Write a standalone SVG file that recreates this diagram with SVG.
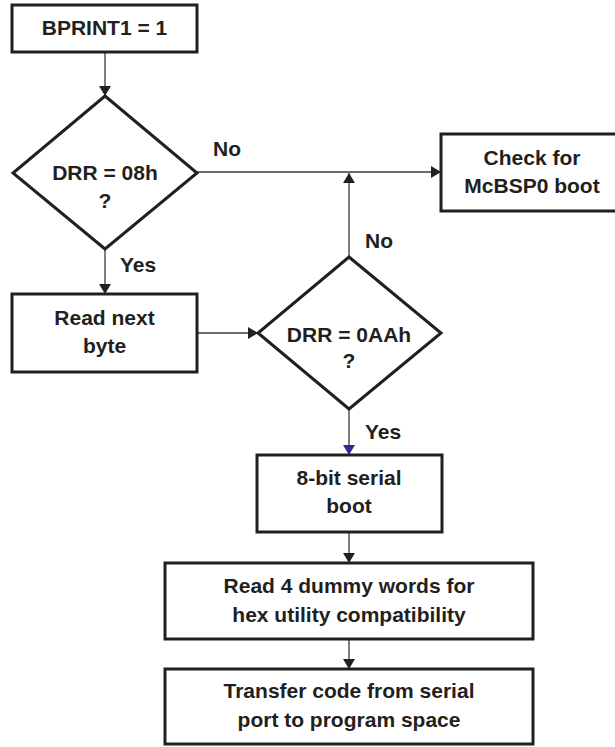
<svg xmlns="http://www.w3.org/2000/svg" width="615" height="747" viewBox="0 0 615 747">
<defs>
<style>
.box{fill:#fff;stroke:#231f20;stroke-width:3;stroke-linejoin:miter}
.t{font-family:"Liberation Sans",Arial,sans-serif;font-weight:bold;font-size:21px;fill:#231f20;text-anchor:middle}
.l{font-family:"Liberation Sans",Arial,sans-serif;font-weight:bold;font-size:21px;fill:#231f20}
.c{fill:none;stroke:#3a3a3a;stroke-width:1.3}
</style>
<marker id="ah" viewBox="0 0 10 12" refX="10" refY="6" markerWidth="10" markerHeight="12" markerUnits="userSpaceOnUse" orient="auto"><path d="M0,0 L10,6 L0,12 Z" fill="#231f20"/></marker>
<marker id="ahb" viewBox="0 0 10 12" refX="10" refY="6" markerWidth="10" markerHeight="12" markerUnits="userSpaceOnUse" orient="auto"><path d="M0,0 L10,6 L0,12 Z" fill="#2b2b9a"/></marker>
</defs>
<rect width="615" height="747" fill="#fff"/>
<g id="connectors">
<line class="c" x1="105" y1="52" x2="105" y2="96" marker-end="url(#ah)"/>
<line class="c" x1="197" y1="172" x2="441" y2="172" marker-end="url(#ah)"/>
<line class="c" x1="349" y1="257" x2="349" y2="173" marker-end="url(#ah)"/>
<line class="c" x1="105" y1="249" x2="105" y2="294" marker-end="url(#ah)"/>
<line class="c" x1="197" y1="333" x2="258" y2="333" marker-end="url(#ah)"/>
<line class="c" x1="349" y1="409" x2="349" y2="455" marker-end="url(#ahb)"/>
<line class="c" x1="349" y1="532" x2="349" y2="563" marker-end="url(#ah)"/>
<line class="c" x1="349" y1="639" x2="349" y2="669" marker-end="url(#ah)"/>
<text class="l" x="213" y="156">No</text>
<text class="l" x="365" y="248">No</text>
<text class="l" x="120" y="272">Yes</text>
<text class="l" x="365" y="439">Yes</text>
</g>
<g id="start">
<rect class="box" x="12" y="5" width="185" height="47"/>
<text class="t" x="104.5" y="35">BPRINT1 = 1</text>
</g>
<g id="dec1">
<polygon class="box" points="105,96 197,173 105,249 13,173"/>
<text class="t" x="105" y="180">DRR = 08h</text>
<text class="t" x="105" y="208">?</text>
</g>
<g id="check">
<rect class="box" x="441" y="134" width="183" height="77"/>
<text class="t" x="532" y="165">Check for</text>
<text class="t" x="532" y="193">McBSP0 boot</text>
</g>
<g id="readnext">
<rect class="box" x="12" y="294" width="185" height="78"/>
<text class="t" x="104.5" y="325">Read next</text>
<text class="t" x="104.5" y="353">byte</text>
</g>
<g id="dec2">
<polygon class="box" points="349,257 441,333 349,409 258,333"/>
<text class="t" x="349" y="342">DRR = 0AAh</text>
<text class="t" x="349" y="368">?</text>
</g>
<g id="boot8">
<rect class="box" x="257" y="455" width="185" height="77"/>
<text class="t" x="349" y="485">8-bit serial</text>
<text class="t" x="349" y="513">boot</text>
</g>
<g id="dummy">
<rect class="box" x="165" y="563" width="368" height="76"/>
<text class="t" x="349" y="593">Read 4 dummy words for</text>
<text class="t" x="349" y="622">hex utility compatibility</text>
</g>
<g id="transfer">
<rect class="box" x="165" y="669" width="368" height="75"/>
<text class="t" x="349" y="698">Transfer code from serial</text>
<text class="t" x="349" y="727">port to program space</text>
</g>
</svg>
